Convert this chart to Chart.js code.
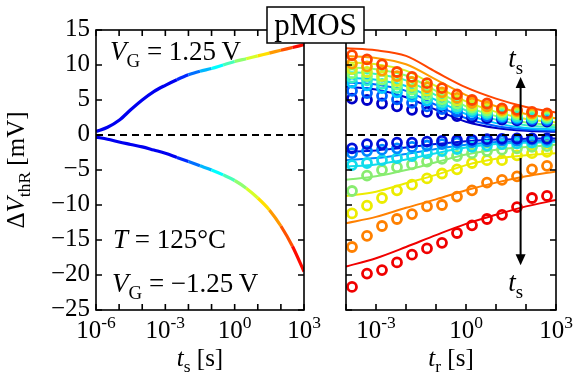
<!DOCTYPE html>
<html>
<head>
<meta charset="utf-8">
<script src="https://cdn.jsdelivr.net/npm/chart.js@4.4.1/dist/chart.umd.min.js"></script>
<style>
  html, body { margin: 0; padding: 0; background: #fff; }
  #wrap { position: relative; width: 582px; height: 387px; }
  canvas { position: absolute; left: 0; top: 0; }
</style>
</head>
<body>
<div id="wrap">
  <canvas id="stress" width="582" height="387"></canvas>
  <canvas id="recov" width="582" height="387"></canvas>
</div>
<script>
// left panel: stress curves, x given as log10(t_s)
const stressLog = [-6, -5.5, -5, -4.5, -4, -3.5, -3, -2.5, -2, -1.5, -1, -0.5, 0, 0.5, 1, 1.5, 2, 2.5, 3];
const stressPos = [0.5, 1.1, 2.1, 3.6, 5.0, 6.2, 7.1, 7.9, 8.6, 9.1, 9.5, 10.0, 10.5, 10.9, 11.3, 11.7, 12.1, 12.5, 12.9];
const stressNeg = [-0.3, -0.6, -1.0, -1.35, -1.7, -2.15, -2.6, -3.2, -3.8, -4.4, -5.0, -5.7, -6.5, -7.6, -9.0, -10.7, -13.0, -15.9, -19.5];

// right panel: recovery, x given as log10(t_r)
const fitLog = [-4, -3, -2, -1, 0, 1, 2, 3];
const ptLog = [-3.8, -3.3, -2.8, -2.3, -1.8, -1.3, -0.8, -0.3, 0.2, 0.7, 1.2, 1.7, 2.2, 2.7];

const upFits = [
  [12.4, 12.1, 11.3, 9.0, 6.8, 5.2, 4.0, 3.2],
  [11.3, 11.0, 10.1, 7.9, 5.7, 4.1, 3.0, 2.4],
  [10.4, 10.1, 9.2, 7.0, 4.8, 3.3, 2.3, 1.8],
  [9.7, 9.4, 8.5, 6.3, 4.1, 2.7, 1.8, 1.4],
  [9.0, 8.7, 7.8, 5.7, 3.5, 2.2, 1.4, 1.1],
  [8.2, 7.9, 7.0, 5.0, 3.0, 1.7, 1.0, 0.8],
  [7.5, 7.2, 6.3, 4.3, 2.4, 1.3, 0.8, 0.6],
  [6.9, 6.5, 5.4, 3.6, 1.9, 1.0, 0.6, 0.45]
];
const upPts = [
  [11.4, 10.8, 10.1, 9.0, 8.3, 7.4, 6.7, 5.8, 5.0, 4.5, 3.8, 3.6, 3.3, 3.1],
  [10.2, 9.8, 9.2, 8.4, 7.6, 6.8, 6.1, 5.3, 4.6, 4.1, 3.6, 3.4, 3.1, 2.9],
  [9.4, 9.0, 8.4, 7.7, 7.0, 6.3, 5.6, 4.9, 4.2, 3.8, 3.4, 3.2, 3.0, 2.8],
  [8.8, 8.4, 7.9, 7.2, 6.5, 5.8, 5.1, 4.5, 3.9, 3.5, 3.2, 3.0, 2.8, 2.6],
  [8.2, 7.8, 7.3, 6.7, 6.0, 5.3, 4.7, 4.1, 3.6, 3.2, 2.9, 2.7, 2.5, 2.4],
  [7.5, 7.1, 6.7, 6.1, 5.5, 4.9, 4.3, 3.8, 3.3, 3.0, 2.7, 2.5, 2.4, 2.3],
  [6.3, 6.0, 5.6, 5.1, 4.6, 4.1, 3.7, 3.3, 2.9, 2.7, 2.5, 2.3, 2.2, 2.1],
  [5.2, 5.0, 4.5, 4.1, 3.6, 3.3, 3.0, 2.7, 2.5, 2.4, 2.2, 2.1, 2.0, 1.9]
];
const downFits = [
  [-2.4, -2.2, -1.8, -1.3, -0.9, -0.65, -0.55, -0.5],
  [-3.6, -3.3, -2.7, -2.0, -1.4, -1.0, -0.85, -0.8],
  [-4.5, -4.2, -3.5, -2.6, -1.8, -1.3, -1.1, -1.0],
  [-6.4, -5.9, -5.0, -3.9, -2.8, -2.1, -1.7, -1.4],
  [-8.7, -8.1, -6.9, -5.7, -4.3, -3.4, -2.9, -2.6],
  [-12.6, -11.7, -10.4, -9.2, -7.9, -6.8, -5.9, -5.2],
  [-18.8, -17.6, -16.0, -14.3, -12.7, -11.4, -10.2, -9.3]
];
const downPts = [
  [-1.9, -1.3, -1.3, -1.1, -1.1, -0.95, -0.85, -0.75, -0.7, -0.6, -0.55, -0.5, -0.5, -0.5],
  [-2.6, -2.3, -2.1, -1.9, -1.7, -1.5, -1.3, -1.1, -1.0, -0.9, -0.8, -0.8, -0.7, -0.7],
  [-4.3, -4.0, -3.6, -3.3, -3.0, -2.6, -2.3, -2.0, -1.7, -1.5, -1.3, -1.2, -1.1, -1.0],
  [-8.0, -5.8, -5.0, -4.6, -4.2, -3.8, -3.4, -3.0, -2.6, -2.3, -2.1, -1.9, -1.7, -1.6],
  [-11.2, -10.1, -9.0, -7.9, -7.1, -6.2, -5.5, -4.9, -4.0, -3.6, -3.6, -2.9, -2.6, -2.4],
  [-16.0, -14.4, -13.0, -12.0, -11.3, -10.2, -10.0, -8.8, -7.9, -6.8, -6.4, -5.9, -4.9, -4.4],
  [-21.7, -19.8, -19.3, -18.2, -17.1, -16.2, -15.4, -14.0, -12.9, -12.0, -11.4, -10.3, -9.0, -8.7]
];
const upColors = ['#ff4500', '#ff9c00', '#d6f022', '#84ff74', '#34f0c4', '#00c8ff', '#0060ff', '#0000c8'];
const downColors = ['#0010d8', '#0088ff', '#10dcec', '#88ec70', '#ecec00', '#ff8000', '#f00000'];

const yTicks = [15, 10, 5, 0, -5, -10, -15, -20, -25];
const xLabelsStress = [-6, -3, 0, 3];
const xLabelsRecov = [-3, 0, 3];
const arrowLogT = 1.82;
const arrowUp = [2.1, 8.3];
const arrowDown = [-3.3, -18.6];

const FONT = '"Liberation Serif", "DejaVu Serif", serif';

function jet(u) {
  const c = v => Math.round(255 * Math.max(0, Math.min(1, v)));
  return 'rgb(' + c(1.5 - Math.abs(4 * u - 3)) + ',' + c(1.5 - Math.abs(4 * u - 2)) + ',' + c(1.5 - Math.abs(4 * u - 1)) + ')';
}
function stressColor(ctx) {
  const m = (Math.log10(ctx.p0.parsed.x) + Math.log10(ctx.p1.parsed.x)) / 2;
  return jet(Math.max(0.11, 0.2 + (m + 2) * 0.14));
}

const pts = (logs, vals) => logs.map((l, i) => ({ x: Math.pow(10, l), y: vals[i] }));

// mixed text: parts = [text, kind] kind in i / r / sub / sup
function rich(ctx, parts, x, y, align, size) {
  const font = k => {
    const s = (k === 'sub' || k === 'sup') ? size * 0.7 : size;
    return (k === 'i' ? 'italic ' : '') + s + 'px ' + FONT;
  };
  let w = 0;
  parts.forEach(p => { ctx.font = font(p[1]); w += ctx.measureText(p[0]).width; });
  let cx = align === 'center' ? x - w / 2 : align === 'right' ? x - w : x;
  ctx.textAlign = 'left';
  ctx.textBaseline = 'alphabetic';
  parts.forEach(p => {
    ctx.font = font(p[1]);
    const dy = p[1] === 'sub' ? size * 0.25 : p[1] === 'sup' ? -size * 0.42 : 0;
    ctx.fillText(p[0], cx, y + dy);
    cx += ctx.measureText(p[0]).width;
  });
}

function frame(chart, xLabels) {
  const { ctx, chartArea: a, scales: { x, y } } = chart;
  ctx.save();
  ctx.strokeStyle = '#000';
  ctx.fillStyle = '#000';
  ctx.lineWidth = 1.6;
  ctx.beginPath();
  for (let e = Math.round(Math.log10(x.min)); e <= Math.round(Math.log10(x.max)); e++) {
    const px = x.getPixelForValue(Math.pow(10, e));
    ctx.moveTo(px, a.bottom); ctx.lineTo(px, a.bottom - 6);
    ctx.moveTo(px, a.top); ctx.lineTo(px, a.top + 6);
  }
  yTicks.forEach(v => {
    const py = y.getPixelForValue(v);
    ctx.moveTo(a.left, py); ctx.lineTo(a.left + 6, py);
    ctx.moveTo(a.right, py); ctx.lineTo(a.right - 6, py);
  });
  ctx.stroke();
  ctx.strokeRect(a.left, a.top, a.right - a.left, a.bottom - a.top);
  xLabels.forEach(e => {
    const px = x.getPixelForValue(Math.pow(10, e));
    rich(ctx, [['10', 'r'], [String(e), 'sup']], px, a.bottom + 28, 'center', 25);
  });
  ctx.restore();
}

const stressFrame = {
  id: 'stressFrame',
  afterDatasetsDraw(chart) {
    const { ctx, chartArea: a, scales: { y } } = chart;
    frame(chart, xLabelsStress);
    ctx.save();
    ctx.fillStyle = '#000';
    ctx.font = '25px ' + FONT;
    ctx.textAlign = 'right';
    ctx.textBaseline = 'middle';
    yTicks.forEach(v => {
      ctx.fillText(v < 0 ? '\u2212' + Math.abs(v) : String(v), a.left - 6, y.getPixelForValue(v) - 1);
    });
    rich(ctx, [['t', 'i'], ['s', 'sub'], [' [s]', 'r']], (a.left + a.right) / 2, 366, 'center', 25);
    rich(ctx, [['V', 'i'], ['G', 'sub'], [' = 1.25\u2009V', 'r']], a.left + 14, 60, 'left', 27);
    rich(ctx, [['T', 'i'], [' = 125\u00b0C', 'r']], a.left + 17, 248, 'left', 27);
    rich(ctx, [['V', 'i'], ['G', 'sub'], [' = \u22121.25\u2009V', 'r']], a.left + 16, 292, 'left', 27);
    ctx.translate(24, (a.top + a.bottom) / 2);
    ctx.rotate(-Math.PI / 2);
    rich(ctx, [['\u0394', 'r'], ['V', 'i'], ['thR', 'sub'], [' [mV]', 'r']], 0, 0, 'center', 25);
    ctx.restore();
  }
};

function arrow(ctx, x, y0, y1) {
  const dir = y1 < y0 ? -1 : 1;
  ctx.beginPath();
  ctx.moveTo(x, y0); ctx.lineTo(x, y1 - dir * 10);
  ctx.stroke();
  ctx.beginPath();
  ctx.moveTo(x, y1); ctx.lineTo(x - 5, y1 - dir * 11); ctx.lineTo(x + 5, y1 - dir * 11);
  ctx.closePath();
  ctx.fill();
}

const recovFrame = {
  id: 'recovFrame',
  afterDatasetsDraw(chart) {
    const { ctx, chartArea: a, scales: { x, y } } = chart;
    frame(chart, xLabelsRecov);
    ctx.save();
    ctx.fillStyle = '#000';
    ctx.strokeStyle = '#000';
    ctx.lineWidth = 2;
    const ax = x.getPixelForValue(Math.pow(10, arrowLogT));
    arrow(ctx, ax, y.getPixelForValue(arrowUp[0]), y.getPixelForValue(arrowUp[1]));
    arrow(ctx, ax, y.getPixelForValue(arrowDown[0]), y.getPixelForValue(arrowDown[1]));
    rich(ctx, [['t', 'i'], ['s', 'sub']], ax - 5, 67, 'center', 27);
    rich(ctx, [['t', 'i'], ['s', 'sub']], ax - 5, 291, 'center', 27);
    rich(ctx, [['t', 'i'], ['r', 'sub'], [' [s]', 'r']], (a.left + a.right) / 2, 366, 'center', 25);
    // label box
    ctx.fillStyle = '#fff';
    ctx.lineWidth = 1.5;
    ctx.fillRect(267, 7, 97, 36);
    ctx.strokeRect(267, 7, 97, 36);
    ctx.fillStyle = '#000';
    ctx.font = '31px ' + FONT;
    ctx.textAlign = 'center';
    ctx.textBaseline = 'alphabetic';
    ctx.fillText('pMOS', 315.5, 35);
    ctx.restore();
  }
};

const zeroLine = (lo, hi) => ({
  data: [{ x: lo, y: 0 }, { x: hi, y: 0 }],
  showLine: true, borderColor: '#000', borderWidth: 2, borderDash: [7, 5], pointRadius: 0, order: 0
});

const hiddenScales = (xmin, xmax) => ({
  x: { type: 'logarithmic', min: xmin, max: xmax, display: false },
  y: { type: 'linear', min: -25, max: 15, display: false }
});
const baseOptions = {
  responsive: false,
  animation: false,
  devicePixelRatio: 1,
  plugins: { legend: { display: false }, tooltip: { enabled: false } },
  events: []
};

new Chart(document.getElementById('stress'), {
  type: 'scatter',
  data: {
    datasets: [
      zeroLine(1e-6, 1e3),
      { data: pts(stressLog, stressPos), showLine: true, borderWidth: 3.2, pointRadius: 0,
        cubicInterpolationMode: 'monotone', segment: { borderColor: stressColor }, order: 1 },
      { data: pts(stressLog, stressNeg), showLine: true, borderWidth: 3.2, pointRadius: 0,
        cubicInterpolationMode: 'monotone', segment: { borderColor: stressColor }, order: 1 }
    ]
  },
  options: Object.assign({}, baseOptions, {
    layout: { padding: { left: 96, right: 278, top: 30, bottom: 77 } },
    scales: hiddenScales(1e-6, 1e3)
  }),
  plugins: [stressFrame]
});

const recovSets = [zeroLine(1e-4, 1e3)];
upFits.forEach((f, i) => recovSets.push({
  data: pts(fitLog, f), showLine: true, borderColor: upColors[i], borderWidth: 2,
  pointRadius: 0, cubicInterpolationMode: 'monotone', order: 2
}));
downFits.forEach((f, i) => recovSets.push({
  data: pts(fitLog, f), showLine: true, borderColor: downColors[i], borderWidth: 2,
  pointRadius: 0, cubicInterpolationMode: 'monotone', order: 2
}));
upPts.forEach((p, i) => recovSets.push({
  data: pts(ptLog, p), borderColor: upColors[i], backgroundColor: 'rgba(0,0,0,0)',
  pointRadius: 4.5, borderWidth: 2.8, order: 1
}));
downPts.forEach((p, i) => recovSets.push({
  data: pts(ptLog, p), borderColor: downColors[i], backgroundColor: 'rgba(0,0,0,0)',
  pointRadius: 4.5, borderWidth: 2.8, order: 1
}));

new Chart(document.getElementById('recov'), {
  type: 'scatter',
  data: { datasets: recovSets },
  options: Object.assign({}, baseOptions, {
    layout: { padding: { left: 346, right: 26, top: 30, bottom: 77 } },
    scales: hiddenScales(1e-4, 1e3)
  }),
  plugins: [recovFrame]
});
</script>
</body>
</html>
